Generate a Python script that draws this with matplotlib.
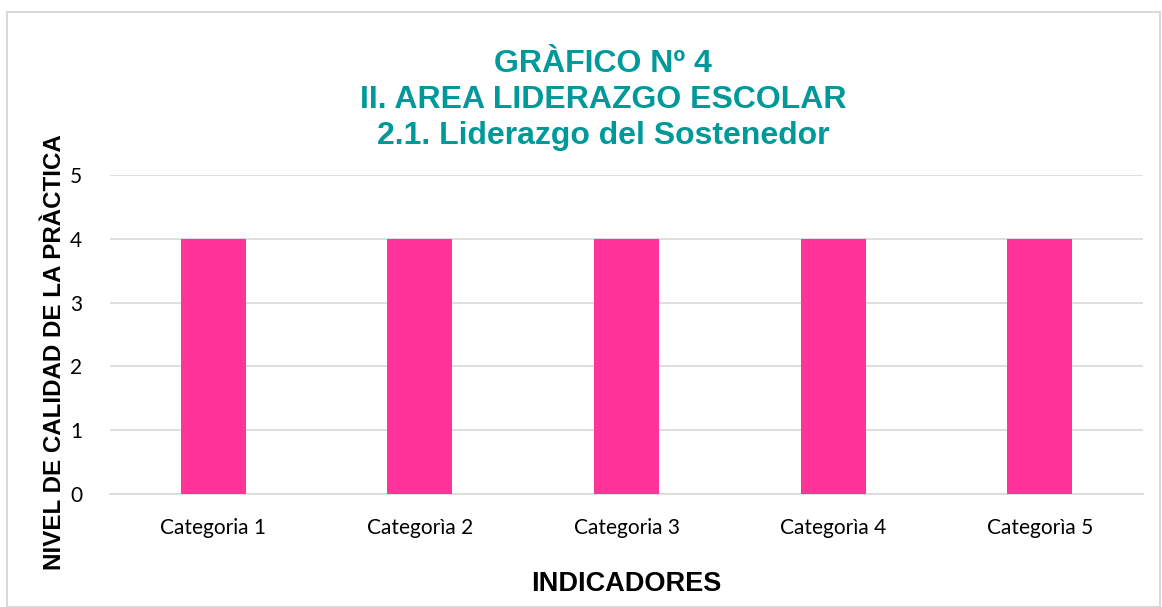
import matplotlib
matplotlib.use('Agg')
import matplotlib.pyplot as plt
from matplotlib.patches import Rectangle

# Datos del gráfico
categorias = ['Categoria 1', 'Categorìa 2', 'Categoria 3', 'Categorìa 4', 'Categorìa 5']
valores = [4, 4, 4, 4, 4]
ticks_y = [0, 1, 2, 3, 4, 5]

titulo = 'GRÀFICO Nº 4\nII. AREA LIDERAZGO ESCOLAR\n2.1. Liderazgo del Sostenedor'

fig = plt.figure(figsize=(11.62, 6.07), dpi=100)
ax = fig.add_axes([110 / 1162, 1 - 494 / 607, 1033 / 1162, 319 / 607])

ax.bar(categorias, valores, width=0.315, color='#FF3399', zorder=3)

ax.set_ylim(0, 5)
ax.set_xlim(-0.5, len(categorias) - 0.5)
ax.set_yticks(ticks_y)
ax.grid(axis='y', color='#d9d9d9', linewidth=1.2, zorder=0)
for s in ['top', 'right', 'left']:
    ax.spines[s].set_visible(False)
ax.spines['bottom'].set_color('#d9d9d9')
ax.spines['bottom'].set_linewidth(1.2)
ax.tick_params(length=0, labelsize=15)
ax.tick_params(axis='x', pad=17)
ax.tick_params(axis='y', pad=20)
for lbl in ax.get_xticklabels() + ax.get_yticklabels():
    lbl.set_family('Lato')

ax.set_ylabel('NIVEL DE CALIDAD DE LA PRÀCTICA', fontsize=17.4, fontweight='bold',
              family='Liberation Sans')
ax.yaxis.set_label_coords(-0.043, 0.445)
ax.set_xlabel('INDICADORES', fontsize=19.5, fontweight='bold',
              family='Liberation Sans', labelpad=24)

fig.text(603 / 1162, 1 - 100 / 607, titulo, ha='center', va='center', fontsize=23,
         fontweight='bold', color='#009999', family='Liberation Sans', linespacing=1.28)

# Marco del gráfico
fig.patches.append(Rectangle((7 / 1162, 0), 1153 / 1162, 1 - 12 / 607,
                             transform=fig.transFigure, fill=False,
                             edgecolor='#d9d9d9', linewidth=1.5))

fig.savefig('out.png', dpi=100)
